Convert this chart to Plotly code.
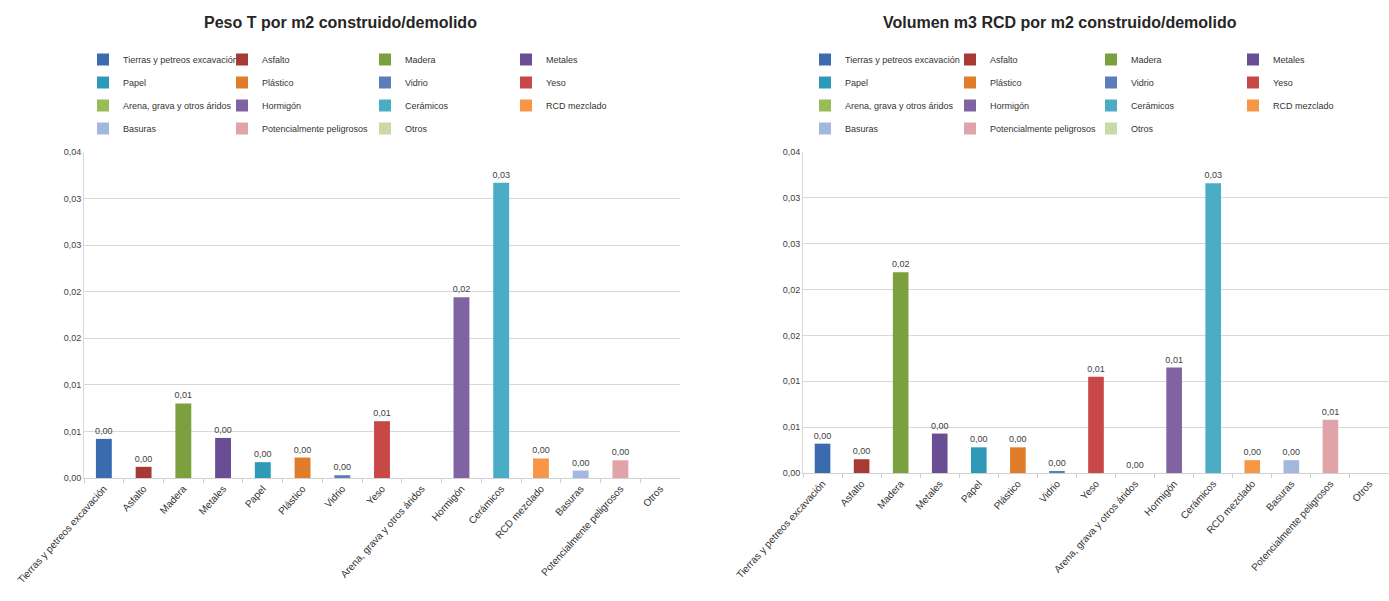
import plotly.graph_objects as go

CATEGORIES = [
    "Tierras y petreos excavación", "Asfalto", "Madera", "Metales", "Papel",
    "Plástico", "Vidrio", "Yeso", "Arena, grava y otros áridos", "Hormigón",
    "Cerámicos", "RCD mezclado", "Basuras", "Potencialmente peligrosos", "Otros",
]
PESO_T = [0.0042, 0.0012, 0.0080, 0.0043, 0.0017, 0.0022, 0.0003, 0.0061,
          None, 0.0194, 0.0317, 0.0021, 0.0008, 0.0019, None]
VOLUMEN_M3 = [0.0032, 0.0015, 0.0219, 0.0043, 0.0028, 0.0028, 0.0002, 0.0105,
              0.0, 0.0115, 0.0316, 0.0014, 0.0014, 0.0058, None]
Y_TICK_VALS = [0, 0.005, 0.01, 0.015, 0.02, 0.025, 0.03, 0.035]
Y_TICK_TEXT = ["0,00", "0,01", "0,01", "0,02", "0,02", "0,03", "0,03", "0,04"]
TITLES = ["Peso T por m2 construido/demolido",
          "Volumen m3 RCD por m2 construido/demolido"]
COLORS = ["#3A6BAE", "#A83A36", "#7CA03E", "#6A4E94", "#2F9AB8", "#E07D2A",
          "#5B7DB8", "#C84848", "#9BBB59", "#8064A2", "#4BACC6", "#F79646",
          "#A3B8DE", "#DFA3A8", "#C8DBA6"]

W, H = 1389, 601
FONT = "Liberation Sans, Arial, sans-serif"
TXT = "#404040"


def px_x(v):
    return v / W


def px_y(v):
    return 1 - v / H


fig = go.Figure()

panels = [
    dict(vals=PESO_T, xa="x", ya="y", side="L", legends=[1, 2, 3, 4]),
    dict(vals=VOLUMEN_M3, xa="x2", ya="y2", side="R", legends=[5, 6, 7, 8]),
]

for p in panels:
    for i, (cat, val, col) in enumerate(zip(CATEGORIES, p["vals"], COLORS)):
        lg = p["legends"][i % 4]
        fig.add_trace(go.Bar(
            x=[cat], y=[val], name=cat,
            marker=dict(color=col, line=dict(width=0)),
            width=0.4,
            texttemplate="%{y:.2f}", textposition="outside",
            constraintext="none",
            textfont=dict(family=FONT, size=9, color=TXT),
            cliponaxis=False,
            xaxis=p["xa"], yaxis=p["ya"],
            legend="legend" if lg == 1 else f"legend{lg}",
            legendgroup=f"{p['side']}{i}",
            hoverinfo="x+y",
        ))

axis_common_x = dict(
    type="category", categoryorder="array", categoryarray=CATEGORIES,
    range=[-0.5, 14.5], tickangle=-48, tickson="boundaries",
    ticks="outside", ticklen=4, tickcolor="#d0d0d0",
    showline=True, linecolor="#d0d0d0", linewidth=1,
    showgrid=False, automargin=False,
    tickfont=dict(family=FONT, size=10, color="#333333"),
)
axis_common_y = dict(
    range=[0, 0.035], tickvals=Y_TICK_VALS, ticktext=Y_TICK_TEXT,
    showgrid=True, gridcolor="#d9d9d9", gridwidth=1,
    showline=True, linecolor="#d9d9d9", linewidth=1,
    zeroline=False, ticks="", automargin=False,
    tickfont=dict(family=FONT, size=9, color=TXT),
)

legend_x = [83, 222, 365, 506, 805, 950, 1091, 1233]
legends = {}
for k, lx in enumerate(legend_x, start=1):
    legends["legend" if k == 1 else f"legend{k}"] = dict(
        x=px_x(lx), y=px_y(45), xanchor="left", yanchor="top",
        orientation="v", bgcolor="rgba(0,0,0,0)", borderwidth=0,
        font=dict(family=FONT, size=9, color="#333333"),
        tracegroupgap=4, traceorder="grouped",
    )

fig.update_layout(
    width=W, height=H, autosize=False,
    margin=dict(l=0, r=0, t=0, b=0),
    paper_bgcolor="white", plot_bgcolor="white",
    barmode="overlay", separators=",.", showlegend=True,
    xaxis=dict(domain=[px_x(84), px_x(680)], anchor="y", **axis_common_x),
    yaxis=dict(domain=[px_y(478), px_y(152)], anchor="x", **axis_common_y),
    xaxis2=dict(domain=[px_x(803), 1.0], anchor="y2", **axis_common_x),
    yaxis2=dict(domain=[px_y(473), px_y(152)], anchor="x2", **axis_common_y),
    annotations=[
        dict(text=f"<b>{TITLES[0]}</b>", x=px_x(340), y=px_y(23), xref="paper",
             yref="paper", showarrow=False, xanchor="center", yanchor="middle",
             font=dict(family=FONT, size=16, color="#262626")),
        dict(text=f"<b>{TITLES[1]}</b>", x=px_x(1060), y=px_y(23), xref="paper",
             yref="paper", showarrow=False, xanchor="center", yanchor="middle",
             font=dict(family=FONT, size=16, color="#262626")),
    ],
    **legends,
)

fig.write_html("out.html")
